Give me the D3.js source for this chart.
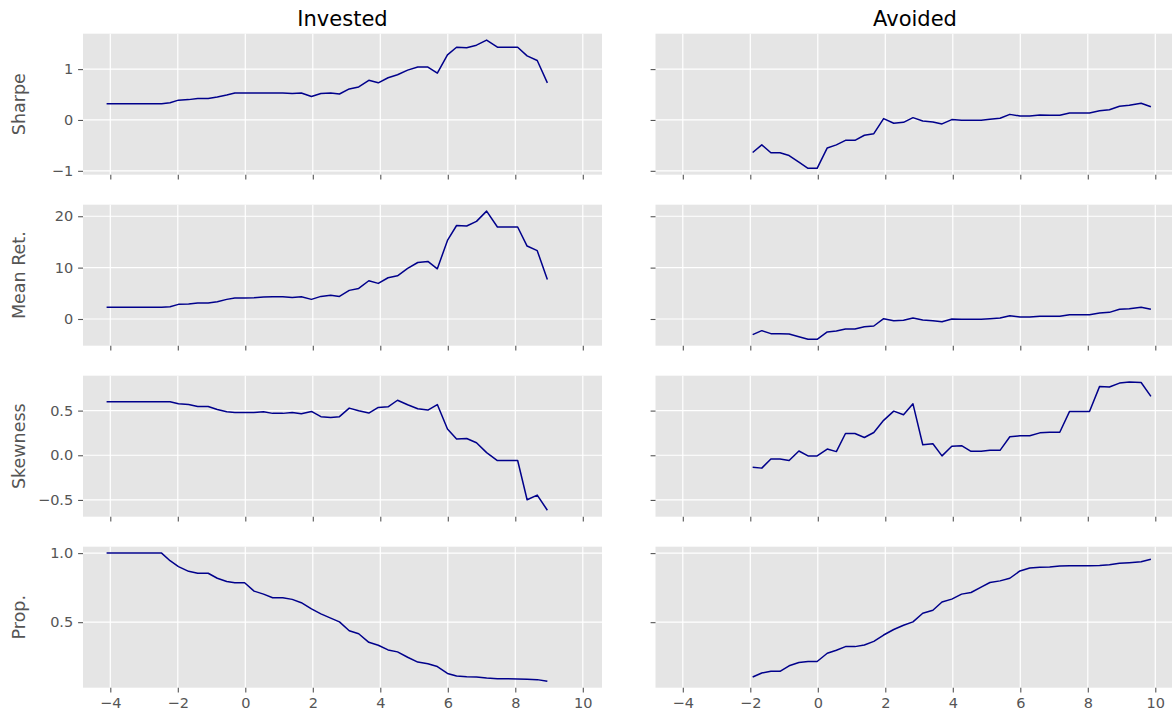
<!DOCTYPE html>
<html><head><meta charset="utf-8">
<script src="https://cdn.jsdelivr.net/npm/d3@7"></script>
<style>
body{margin:0;background:#fff}
svg{display:block}
text{font-family:"DejaVu Sans",sans-serif}
</style>
</head><body>
<svg id="chart" width="1172" height="719"></svg>
<script>
// ---------- data ----------
const columns = ["Invested", "Avoided"];
const rowLabels = ["Sharpe", "Mean Ret.", "Skewness", "Prop."];

const xInvested = [-4.11,-3.84,-3.57,-3.29,-3.02,-2.75,-2.48,-2.23,-1.98,-1.68,-1.41,-1.10,-0.83,-0.55,-0.31,-0.02,0.26,0.54,0.81,1.11,1.39,1.66,1.96,2.24,2.53,2.79,3.08,3.36,3.66,3.94,4.23,4.51,4.81,5.11,5.41,5.69,5.99,6.26,6.56,6.85,7.15,7.47,7.77,8.07,8.35,8.65,8.95];
const xAvoided = [-1.93,-1.66,-1.39,-1.12,-0.85,-0.56,-0.29,-0.02,0.28,0.55,0.82,1.10,1.38,1.66,1.95,2.25,2.54,2.82,3.11,3.41,3.68,3.97,4.26,4.54,4.84,5.10,5.40,5.69,5.99,6.28,6.58,6.87,7.17,7.46,7.76,8.05,8.35,8.64,8.94,9.23,9.58,9.87];

const sharpeInvested = [0.32,0.32,0.32,0.32,0.32,0.32,0.32,0.34,0.39,0.40,0.42,0.42,0.45,0.49,0.53,0.53,0.53,0.53,0.53,0.53,0.52,0.53,0.46,0.52,0.53,0.51,0.61,0.65,0.78,0.73,0.83,0.89,0.98,1.04,1.04,0.92,1.28,1.43,1.42,1.47,1.57,1.43,1.43,1.43,1.26,1.17,0.73];
const sharpeAvoided = [-0.64,-0.49,-0.645,-0.645,-0.70,-0.83,-0.95,-0.95,-0.55,-0.49,-0.40,-0.40,-0.30,-0.27,0.026,-0.065,-0.046,0.046,-0.02,-0.04,-0.078,0.007,-0.007,-0.007,-0.007,0.013,0.033,0.11,0.078,0.078,0.098,0.091,0.091,0.137,0.137,0.137,0.18,0.20,0.27,0.29,0.33,0.26];

const meanRetInvested = [2.27,2.27,2.27,2.27,2.27,2.27,2.27,2.39,2.85,2.91,3.1,3.1,3.37,3.82,4.08,4.08,4.14,4.27,4.34,4.34,4.2,4.34,3.82,4.4,4.6,4.4,5.57,5.95,7.44,6.93,8.03,8.41,9.84,11.0,11.2,9.77,15.3,18.2,18.1,19.0,21.0,17.9,17.9,17.9,14.2,13.3,7.7];
const meanRetAvoided = [-3.04,-2.27,-2.85,-2.85,-2.91,-3.45,-3.95,-3.95,-2.52,-2.33,-1.94,-1.94,-1.49,-1.36,0.06,-0.32,-0.26,0.19,-0.19,-0.32,-0.52,0.0,-0.06,-0.06,-0.06,0.06,0.19,0.65,0.39,0.39,0.52,0.52,0.52,0.84,0.84,0.84,1.17,1.29,1.88,2.0,2.27,1.88];

const skewInvested = [0.60,0.60,0.60,0.60,0.60,0.60,0.60,0.60,0.576,0.568,0.546,0.546,0.513,0.487,0.48,0.48,0.48,0.487,0.469,0.469,0.48,0.465,0.491,0.432,0.424,0.432,0.528,0.498,0.472,0.535,0.542,0.616,0.565,0.52,0.506,0.568,0.295,0.181,0.188,0.14,0.03,-0.059,-0.059,-0.059,-0.498,-0.446,-0.616];
const skewAvoided = [-0.133,-0.144,-0.041,-0.041,-0.059,0.048,-0.007,-0.007,0.070,0.041,0.244,0.244,0.199,0.255,0.391,0.494,0.454,0.576,0.118,0.129,-0.007,0.1,0.107,0.044,0.044,0.055,0.055,0.207,0.218,0.218,0.251,0.258,0.258,0.491,0.491,0.491,0.771,0.764,0.808,0.819,0.815,0.66];

const propInvested = [1.0,1.0,1.0,1.0,1.0,1.0,1.0,0.945,0.902,0.868,0.854,0.854,0.818,0.794,0.785,0.785,0.725,0.703,0.677,0.677,0.665,0.641,0.596,0.56,0.529,0.502,0.438,0.416,0.354,0.333,0.299,0.285,0.246,0.211,0.199,0.179,0.129,0.110,0.105,0.103,0.096,0.091,0.091,0.089,0.086,0.084,0.072];
const propAvoided = [0.103,0.132,0.144,0.144,0.184,0.208,0.215,0.215,0.275,0.297,0.323,0.323,0.335,0.361,0.407,0.447,0.478,0.502,0.565,0.586,0.646,0.667,0.703,0.715,0.754,0.787,0.799,0.818,0.871,0.892,0.897,0.900,0.907,0.909,0.909,0.909,0.911,0.916,0.926,0.931,0.938,0.955];

const xTickValues = [-4, -2, 0, 2, 4, 6, 8, 10];
const yTickSharpe = [-1, 0, 1];
const yTickMeanRet = [0, 10, 20];
const yTickSkew = [-0.5, 0.0, 0.5];
const yTickProp = [0.5, 1.0];

// ---------- assemble ----------
const xs = [xInvested, xAvoided];
const rows = [
  {label: rowLabels[0], series: [sharpeInvested, sharpeAvoided], ticks: yTickSharpe, fmt: d3.format("d")},
  {label: rowLabels[1], series: [meanRetInvested, meanRetAvoided], ticks: yTickMeanRet, fmt: d3.format("d")},
  {label: rowLabels[2], series: [skewInvested, skewAvoided], ticks: yTickSkew, fmt: d3.format(".1f")},
  {label: rowLabels[3], series: [propInvested, propAvoided], ticks: yTickProp, fmt: d3.format(".1f")}
];

// ---------- layout ----------
const panelW = 519, panelH = 141;
const colX = [83, 655.5];
const rowY = [33.7, 204.7, 375.7, 546.7];
const tickLen = 4.9, tickPad = 4.9;
const bg = "#E5E5E5", axisColor = "#555555", lineColor = "#00008B";
const tickFont = "14.5px", labelFont = "17.5px", titleFont = "21px";

function padExtent(ext) {
  const r = ext[1] - ext[0];
  return [ext[0] - 0.05 * r, ext[1] + 0.05 * r];
}

const svg = d3.select("#chart");
const x = d3.scaleLinear()
  .domain(padExtent(d3.extent(xInvested.concat(xAvoided))))
  .range([0, panelW]);

rows.forEach((row, ri) => {
  const y = d3.scaleLinear()
    .domain(padExtent(d3.extent(row.series[0].concat(row.series[1]))))
    .range([panelH, 0]);

  [0, 1].forEach(ci => {
    const g = svg.append("g").attr("transform", `translate(${colX[ci]},${rowY[ri]})`);
    g.append("rect").attr("width", panelW).attr("height", panelH).attr("fill", bg);

    // grid
    g.selectAll(".gx").data(xTickValues).enter().append("line")
      .attr("x1", d => x(d)).attr("x2", d => x(d))
      .attr("y1", 0).attr("y2", panelH)
      .attr("stroke", "#fff").attr("stroke-width", 1.2);
    g.selectAll(".gy").data(row.ticks).enter().append("line")
      .attr("x1", 0).attr("x2", panelW)
      .attr("y1", d => y(d)).attr("y2", d => y(d))
      .attr("stroke", "#fff").attr("stroke-width", 1.2);

    // line
    const pts = xs[ci].map((xv, i) => [xv, row.series[ci][i]]);
    g.append("path").datum(pts)
      .attr("fill", "none").attr("stroke", lineColor).attr("stroke-width", 1.5)
      .attr("stroke-linejoin", "round")
      .attr("d", d3.line().x(d => x(d[0])).y(d => y(d[1])));

    // x axis
    const xa = d3.axisBottom(x).tickValues(xTickValues).tickSize(tickLen).tickPadding(tickPad)
      .tickFormat(ri === rows.length - 1 ? d3.format("d") : () => "");
    const gx = g.append("g").attr("transform", `translate(0,${panelH})`).call(xa);
    gx.select(".domain").remove();
    gx.selectAll("line").attr("stroke", axisColor).attr("stroke-width", 1.1);
    gx.selectAll("text").attr("fill", axisColor).style("font-size", tickFont)
      .style("font-family", '"DejaVu Sans",sans-serif');

    // y axis
    const ya = d3.axisLeft(y).tickValues(row.ticks).tickSize(tickLen).tickPadding(tickPad)
      .tickFormat(ci === 0 ? row.fmt : () => "");
    const gy = g.append("g").call(ya);
    gy.select(".domain").remove();
    gy.selectAll("line").attr("stroke", axisColor).attr("stroke-width", 1.1);
    gy.selectAll("text").attr("fill", axisColor).style("font-size", tickFont)
      .style("font-family", '"DejaVu Sans",sans-serif');

    if (ri === 0) {
      svg.append("text")
        .attr("x", colX[ci] + panelW / 2).attr("y", rowY[0] - 8)
        .attr("text-anchor", "middle").attr("fill", "#000")
        .style("font-size", titleFont)
        .text(columns[ci]);
    }
  });

  svg.append("text")
    .attr("transform", `translate(19,${rowY[ri] + panelH / 2}) rotate(-90)`)
    .attr("dy", "0.35em")
    .attr("text-anchor", "middle").attr("fill", axisColor)
    .style("font-size", labelFont)
    .text(row.label);
});
</script>
</body></html>
